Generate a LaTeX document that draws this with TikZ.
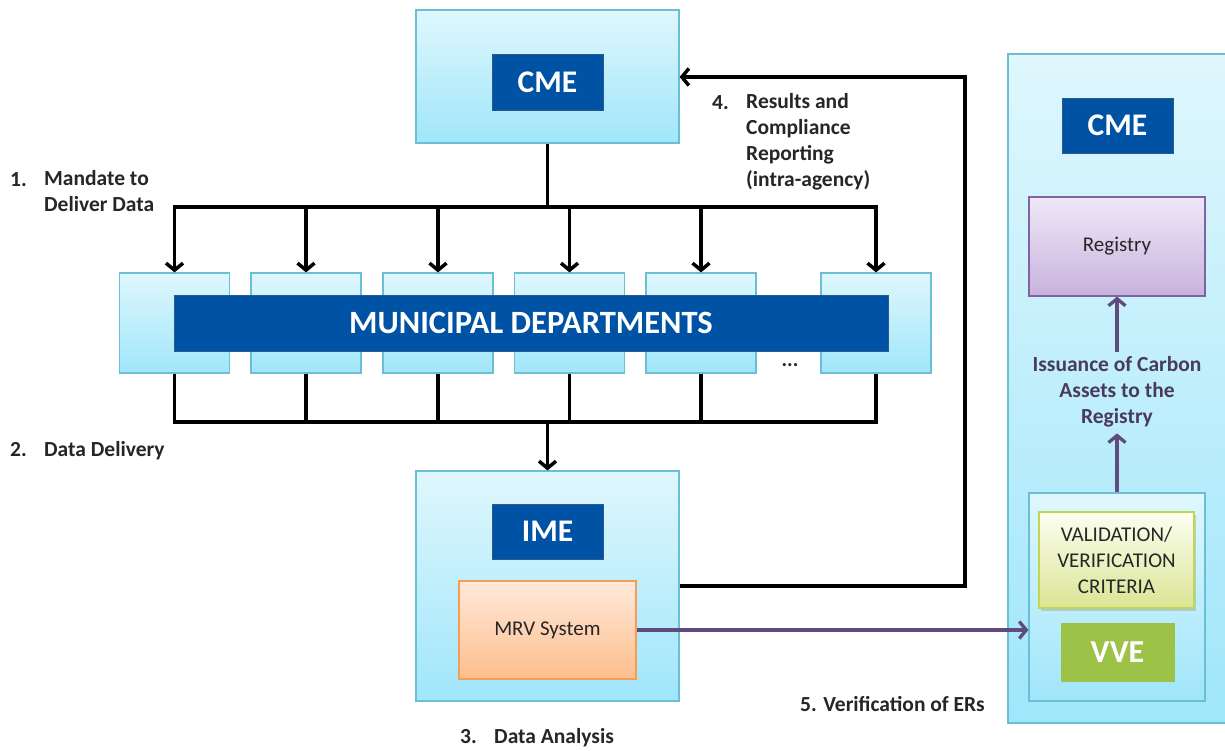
\documentclass[tikz,border=0pt]{standalone}
\usepackage{fontspec}
\setmainfont{Carlito}
\usetikzlibrary{arrows.meta,shadows}
\definecolor{lbTop}{HTML}{DFF7FD}
\definecolor{lbBot}{HTML}{A0E6FA}
\definecolor{lbBorder}{HTML}{6BBFD5}
\definecolor{dblue}{HTML}{0052A4}
\definecolor{dbBorder}{HTML}{2A5A8C}
\definecolor{txt}{HTML}{262626}
\definecolor{purp}{HTML}{5F4B7E}
\definecolor{purptxt}{HTML}{4A3A60}
\definecolor{orTop}{HTML}{FFE9DB}
\definecolor{orBot}{HTML}{FDBE8C}
\definecolor{orBorder}{HTML}{F59D56}
\definecolor{vTop}{HTML}{EFE8F7}
\definecolor{vBot}{HTML}{C8B2DE}
\definecolor{vBorder}{HTML}{8064A2}
\definecolor{yTop}{HTML}{FDFEF2}
\definecolor{yBot}{HTML}{DAE593}
\definecolor{yBorder}{HTML}{C3D650}
\definecolor{vgreen}{HTML}{9DC248}
\begin{document}
\begin{tikzpicture}[x=1pt,y=-1pt,
  sz/.style 2 args={minimum width=#1pt, minimum height=#2pt, inner sep=0pt},
  lightbox/.style={draw=lbBorder, line width=1.2pt, top color=lbTop, bottom color=lbBot},
  darkbox/.style={draw=dbBorder, line width=0.8pt, fill=dblue, text=white,
    font=\fontsize{31.5}{36}\selectfont\bfseries},
  mrvbox/.style={draw=orBorder, line width=1.2pt, top color=orTop, bottom color=orBot,
    text=txt, font=\fontsize{21}{26}\selectfont},
  regbox/.style={draw=vBorder, line width=1.2pt, top color=vTop, bottom color=vBot,
    text=txt, font=\fontsize{21}{26}\selectfont},
  critbox/.style={draw=yBorder, line width=1.5pt, top color=yTop, bottom color=yBot,
    text=txt, font=\fontsize{21}{26}\selectfont, align=center,
    drop shadow={shadow xshift=2pt, shadow yshift=-3pt, opacity=0.3}},
  vvebox/.style={fill=vgreen, draw=vgreen, text=white, font=\fontsize{32}{36}\selectfont\bfseries},
  lab/.style={font=\fontsize{21.5}{26}\selectfont\bfseries, text=txt, inner sep=0pt},
  blk/.style={line width=3.5pt, draw=black},
  arr/.style={blk, -{Straight Barb[length=7pt,width=17pt]}},
  parr/.style={line width=3.3pt, draw=purp, -{Straight Barb[length=7pt,width=17pt]}}
]
\path[use as bounding box, clip] (0,0) rectangle (1225,750);
\fill[white] (0,0) rectangle (1225,750);

% ---- top CME
\node[lightbox, sz={263}{133}] (cmeout) at (547.5,76.5) {};
\node[darkbox, sz={111}{56}] (cme) at (547.5,82) {CME};

% ---- IME
\node[lightbox, sz={263}{230}] (imeout) at (547.5,586) {};
\node[darkbox, sz={111}{55}] (ime) at (547.5,531.5) {IME};
\node[mrvbox, sz={177}{98}] (mrv) at (547.5,630) {MRV System};

% ---- municipal departments
\foreach \i/\x in {1/174.5, 2/306, 3/438, 4/569.5, 5/701, 6/876}{
  \node[lightbox, sz={110}{100}] (d\i) at (\x,323) {};
}
\node[darkbox, sz={714}{56}, font=\fontsize{32.5}{36}\selectfont\bfseries] (md) at (531,323) {MUNICIPAL DEPARTMENTS};
\node[font=\fontsize{21}{26}\selectfont\bfseries, text=txt, inner sep=0pt, anchor=base] (dots) at (790,366) {...};

% ---- right panel
\node[lightbox, sz={224}{669}] (rp) at (1120,388.5) {};
\node[darkbox, sz={111}{55}] (cme2) at (1117.5,125.5) {CME};
\node[regbox, sz={176}{99}] (reg) at (1117,246.5) {Registry};
\node[lightbox, sz={176}{208}] (vv) at (1117,597) {};
\node[critbox, sz={155}{96}] (crit) at (1116.5,560) {VALIDATION/\\VERIFICATION\\CRITERIA};
\node[vvebox, sz={113}{58}] (vve) at (1117.5,652) {VVE};

% ---- labels
\node[lab, anchor=base west] (n1) at (10,186) {1.};
\node[lab, anchor=north west, align=left] (l1) at (44,170) {Mandate to\\Deliver Data};
\node[lab, anchor=base west] (n2) at (10,456) {2.};
\node[lab, anchor=base west] (l2) at (44,456) {Data Delivery};
\node[lab, anchor=base west] (n3) at (460,743) {3.};
\node[lab, anchor=base west] (l3) at (494,743) {Data Analysis};
\node[lab, anchor=base west] (n4) at (712,109) {4.};
\node[lab, anchor=north west, align=left] (l4) at (746,93) {Results and\\Compliance\\Reporting\\(intra-agency)};
\node[lab, anchor=base west] (l5) at (800,711) {5. Verification of ERs};
\node[lab, text=purptxt, anchor=north, align=center] (iss) at (1117,356) {Issuance of Carbon\\Assets to the\\Registry};

% ---- connectors: mandate
\coordinate (jt) at (547.5,207);
\draw[blk] (cmeout.south) -- (jt);
\draw[arr] (jt) -| (d1.north);
\draw[arr] (jt) -| (d6.north);
\foreach \i in {2,3,4,5}{ \draw[arr] (jt -| d\i.north) -- (d\i.north); }

% ---- connectors: delivery
\coordinate (jb) at (547.5,422);
\draw[blk] (d1.south) |- (jb);
\draw[blk] (d6.south) |- (jb);
\foreach \i in {2,3,4,5}{ \draw[blk] (d\i.south) -- (jb -| d\i.south); }
\draw[arr] (jb) -- (imeout.north);

% ---- results reporting
\coordinate (fb) at (965,77);
\draw[arr] (imeout.east) -| (fb) -- (cmeout.east |- fb);

% ---- verification
\draw[parr] (mrv.east) -- (mrv.east -| vv.west);
\draw[parr] (vv.north) -- ([yshift=59pt]vv.north);
\draw[parr] ([yshift=-55pt]reg.south) -- (reg.south);
\end{tikzpicture}
\end{document}
